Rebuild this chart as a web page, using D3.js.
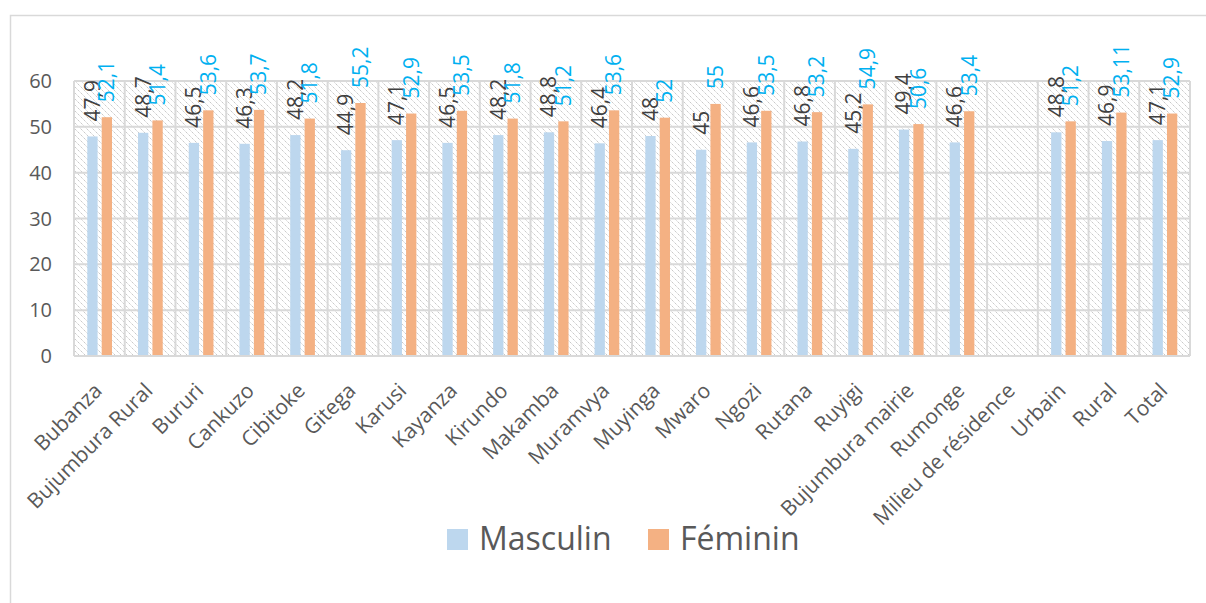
<!DOCTYPE html>
<html>
<head>
<meta charset="utf-8">
<script src="https://cdn.jsdelivr.net/npm/d3@7"></script>
<style>
  body { margin: 0; background: #fff; }
  text { font-family: "Open Sans", sans-serif; }
</style>
</head>
<body>
<svg id="chart" width="1206" height="603"></svg>
<script>
// categories along the x axis (the empty group is a header row in the source table)
var categories = ["Bubanza", "Bujumbura Rural", "Bururi", "Cankuzo", "Cibitoke", "Gitega",
  "Karusi", "Kayanza", "Kirundo", "Makamba", "Muramvya", "Muyinga", "Mwaro", "Ngozi",
  "Rutana", "Ruyigi", "Bujumbura mairie", "Rumonge", "Milieu de résidence", "Urbain",
  "Rural", "Total"];

var masculin = [47.9, 48.7, 46.5, 46.3, 48.2, 44.9, 47.1, 46.5, 48.2, 48.8, 46.4, 48, 45,
  46.6, 46.8, 45.2, 49.4, 46.6, null, 48.8, 46.9, 47.1];
var feminin = [52.1, 51.4, 53.6, 53.7, 51.8, 55.2, 52.9, 53.5, 51.8, 51.2, 53.6, 52, 55,
  53.5, 53.2, 54.9, 50.6, 53.4, null, 51.2, 53.11, 52.9];

var seriesNames = ["Masculin", "Féminin"];
var yTicks = [0, 10, 20, 30, 40, 50, 60];

var svg = d3.select("#chart");

// hatched plot background
var defs = svg.append("defs");
var pat = defs.append("pattern")
    .attr("id", "hatch")
    .attr("patternUnits", "userSpaceOnUse")
    .attr("width", 6).attr("height", 6);
pat.append("rect").attr("width", 6).attr("height", 6).attr("fill", "#fff");
pat.append("path")
    .attr("d", "M0,0 L6,6 M-1,5 L1,7 M5,-1 L7,1")
    .attr("stroke", "#c8c8c8")
    .attr("stroke-width", 1)
    .attr("stroke-dasharray", "1.4,0.7");

// chart area border (runs off the picture on the right and bottom)
svg.append("rect")
    .attr("x", 10.5).attr("y", 15.5)
    .attr("width", 1300).attr("height", 700)
    .attr("fill", "none")
    .attr("stroke", "#d9d9d9")
    .attr("stroke-width", 1.5);

var plotL = 74, plotR = 1190, plotT = 81, plotB = 356;

var x = d3.scaleBand().domain(categories).range([plotL, plotR]).padding(0);
var inner = d3.scaleBand().domain(seriesNames).range([13.3, 38]).paddingInner(0.285);
var y = d3.scaleLinear().domain([0, 60]).range([plotB, plotT]);

svg.append("rect")
    .attr("x", plotL).attr("y", plotT)
    .attr("width", plotR - plotL).attr("height", plotB - plotT)
    .attr("fill", "url(#hatch)");

// horizontal grid
svg.append("g").selectAll("line")
    .data(yTicks.filter(function(d) { return d > 0; }))
    .enter().append("line")
    .attr("x1", plotL).attr("x2", plotR)
    .attr("y1", function(d) { return y(d); })
    .attr("y2", function(d) { return y(d); })
    .attr("stroke", "#d9d9d9")
    .attr("stroke-width", 2);

// vertical grid at the category boundaries
var bounds = categories.map(function(c) { return x(c); }).concat([plotR]);
svg.append("g").selectAll("line")
    .data(bounds)
    .enter().append("line")
    .attr("x1", function(d) { return d; }).attr("x2", function(d) { return d; })
    .attr("y1", plotT).attr("y2", plotB)
    .attr("stroke", "#d9d9d9")
    .attr("stroke-width", 2);

// y axis labels
svg.append("g").selectAll("text")
    .data(yTicks)
    .enter().append("text")
    .attr("x", 52)
    .attr("y", function(d) { return y(d); })
    .attr("dy", "0.35em")
    .attr("text-anchor", "end")
    .attr("font-size", 20)
    .attr("fill", "#595959")
    .text(function(d) { return d; });

// bars
var rows = categories.map(function(c, i) {
  return { cat: c, vals: [masculin[i], feminin[i]] };
});
var colors = { "Masculin": "#bdd7ee", "Féminin": "#f4b183" };
var labelColors = { "Masculin": "#404040", "Féminin": "#00b0f0" };

var fmt = function(v) { return String(v).replace(".", ","); };

var group = svg.append("g").selectAll("g")
    .data(rows)
    .enter().append("g")
    .attr("transform", function(d) { return "translate(" + x(d.cat) + ",0)"; });

var cells = group.selectAll("g")
    .data(function(d) {
      return seriesNames.map(function(s, k) { return { s: s, v: d.vals[k] }; })
        .filter(function(e) { return e.v != null; });
    })
    .enter().append("g");

cells.append("rect")
    .attr("x", function(d) { return inner(d.s); })
    .attr("width", inner.bandwidth())
    .attr("y", function(d) { return y(d.v); })
    .attr("height", function(d) { return plotB - y(d.v); })
    .attr("fill", function(d) { return colors[d.s]; });

cells.append("text")
    .attr("transform", function(d) {
      return "translate(" + (inner(d.s) + inner.bandwidth() / 2) + "," + (y(d.v) - 15) + ") rotate(-90)";
    })
    .attr("dy", "0.35em")
    .attr("font-size", 21)
    .attr("fill", function(d) { return labelColors[d.s]; })
    .text(function(d) { return fmt(d.v); });

// x axis line
svg.append("line")
    .attr("x1", plotL).attr("x2", plotR)
    .attr("y1", plotB).attr("y2", plotB)
    .attr("stroke", "#d9d9d9")
    .attr("stroke-width", 2);

// x labels, rotated
svg.append("g").selectAll("text")
    .data(categories)
    .enter().append("text")
    .attr("transform", function(d) {
      return "translate(" + (x(d) + x.bandwidth() / 2 + 4) + "," + 392 + ") rotate(-45)";
    })
    .attr("text-anchor", "end")
    .attr("font-size", 21)
    .attr("fill", "#595959")
    .text(function(d) { return d; });

// legend
var legend = svg.append("g").selectAll("g")
    .data(seriesNames)
    .enter().append("g")
    .attr("transform", function(d, i) { return "translate(" + (447 + i * 201) + ",529)"; });
legend.append("rect")
    .attr("width", 21).attr("height", 21)
    .attr("fill", function(d) { return colors[d]; });
legend.append("text")
    .attr("x", 32).attr("y", 21)
    .attr("font-size", 32)
    .attr("fill", "#595959")
    .text(function(d) { return d; });
</script>
</body>
</html>
